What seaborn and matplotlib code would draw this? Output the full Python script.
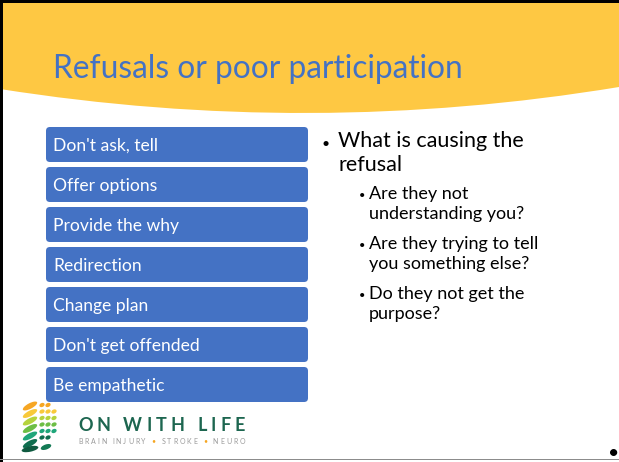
import matplotlib
matplotlib.use("Agg")

import matplotlib.pyplot as plt
import seaborn as sns
import pandas as pd
from matplotlib.patches import FancyBboxPatch, Rectangle, Ellipse, PathPatch
from matplotlib.path import Path

# ------------------------------------------------------------------
# Slide content
# ------------------------------------------------------------------

title = "Refusals or poor participation"

strategies = [
    "Don't ask, tell",
    "Offer options",
    "Provide the why",
    "Redirection",
    "Change plan",
    "Don't get offended",
    "Be empathetic",
]

question = ["What is causing the", "refusal"]

sub_questions = [
    ["Are they not", "understanding you?"],
    ["Are they trying to tell", "you something else?"],
    ["Do they not get the", "purpose?"],
]

brand = "ON WITH LIFE"
tagline = ["BRAIN INJURY", "STROKE", "NEURO"]

leaf_colors = ["#F6A623", "#F8C93A", "#B5D33D", "#6DBE45", "#1FA67A", "#0F6E4F"]

# ------------------------------------------------------------------
# Style
# ------------------------------------------------------------------

BLUE = "#4472C4"
YELLOW = "#FEC843"
W, H = 619, 462

sns.set_theme(style="white")
plt.rcParams["font.family"] = ["Lato", "DejaVu Sans"]

fig = plt.figure(figsize=(W / 100, H / 100), dpi=100)
fig.patch.set_facecolor("white")

# background axes in pixel units (y down)
bg = fig.add_axes([0, 0, 1, 1])
bg.set_xlim(0, W)
bg.set_ylim(H, 0)
bg.axis("off")

# yellow header band with curved bottom edge
band = Path(
    [(0, 3), (0, 89), (310, 138), (W, 87), (W, 3), (0, 3)],
    [Path.MOVETO, Path.LINETO, Path.CURVE3, Path.CURVE3, Path.LINETO, Path.CLOSEPOLY],
)
bg.add_patch(PathPatch(band, fc=YELLOW, ec="none"))

# frame lines
bg.add_patch(Rectangle((0, 0), W, 2.5, fc="black", ec="none"))
bg.add_patch(Rectangle((0, 0), 3, H, fc="black", ec="none"))
bg.add_patch(Rectangle((0, 458.5), W, 1.8, fc="#8c8c8c", ec="none"))

bg.text(53, 78, title, fontsize=22.8, color=BLUE, va="baseline", ha="left")

# ------------------------------------------------------------------
# Blue strategy boxes (horizontal bars)
# ------------------------------------------------------------------

df = pd.DataFrame({"strategy": strategies, "value": [1] * len(strategies)})

ax = fig.add_axes([46 / W, (H - 404.5) / H, 262 / W, 280 / H])
sns.barplot(
    data=df,
    x="value",
    y="strategy",
    orient="h",
    width=35 / 40,
    color=BLUE,
    saturation=1,
    linewidth=0,
    ax=ax,
)
ax.set_xlim(0, 1)
ax.axis("off")

for p in list(ax.patches):
    x0, y0 = p.get_x(), p.get_y()
    w, h = p.get_width(), p.get_height()
    p.remove()
    ax.add_patch(FancyBboxPatch(
        (x0, y0), w, h,
        boxstyle="round,pad=0,rounding_size=0.015",
        mutation_aspect=6.5,
        fc=BLUE, ec="none",
    ))

for i, label in enumerate(df["strategy"]):
    ax.text(7 / 262, i + 0.16, label, color="white", fontsize=12.6,
            va="baseline", ha="left")

# ------------------------------------------------------------------
# Bullet text
# ------------------------------------------------------------------

for k, line in enumerate(question):
    bg.text(338, 147 + 24 * k, line, fontsize=15.5, color="black", va="baseline")
bg.text(326, 148, "\u2022", fontsize=10, color="black", ha="center", va="baseline")

for k, item in enumerate(sub_questions):
    base = 199 + 50 * k
    bg.text(362, base, "\u2022", fontsize=8, color="black", ha="center", va="baseline")
    for j, line in enumerate(item):
        bg.text(369, base + 20 * j, line, fontsize=13, color="black", va="baseline")

bg.text(614, 453, "\u2022", fontsize=14, color="black", ha="center", va="center")

# ------------------------------------------------------------------
# Logo
# ------------------------------------------------------------------

renderer = fig.canvas.get_renderer()


def spread_text(ax, x0, x1, y, parts, **kw):
    """Draw characters spread evenly between x0 and x1 (pixel units)."""
    chars = [(ch, c) for text, c in parts for ch in text]
    widths = []
    for ch, c in chars:
        if ch == " ":
            widths.append(0)
            continue
        t = ax.text(0, -100, ch, **kw)
        widths.append(t.get_window_extent(renderer=renderer).width)
        t.remove()
    n_space = sum(1 for ch, _ in chars if ch == " ")
    gap = (x1 - x0 - sum(widths)) / (len(chars) - 1 + n_space)
    x = x0
    for (ch, c), w in zip(chars, widths):
        if ch != " ":
            ax.text(x, y, ch, color=c, va="baseline", ha="left", **kw)
        x += w + gap * (2 if ch == " " else 1)


spread_text(bg, 78, 245, 431, [(brand, "#1D6650")], fontsize=13, fontweight="bold")

tag_parts = []
for k, word in enumerate(tagline):
    if k:
        tag_parts.append((" \u2022 ", "#F5A623"))
    tag_parts.append((word, "#9A9A9A"))
spread_text(bg, 78, 245, 443.5, tag_parts, fontsize=5)

# leaf mark: veins on the left, small drops on the right
for k, c in enumerate(leaf_colors):
    bg.add_patch(Ellipse((30, 406 + 7.5 * k), 16, 5.5, angle=-28, fc=c, ec="none"))
    for j in range(3):
        if j == 2 and k in (0, 5):
            continue
        bg.add_patch(Ellipse((42 + 6 * j, 405 + 6.5 * k), 5.5, 4, angle=-25,
                             fc=c, ec="none"))
bg.add_patch(Ellipse((30, 449), 17, 5.5, angle=-12, fc="#0F5A40", ec="none"))
bg.add_patch(Ellipse((46, 447), 11, 5, angle=-20, fc="#137A55", ec="none"))

fig.savefig("out.png", dpi=100)
